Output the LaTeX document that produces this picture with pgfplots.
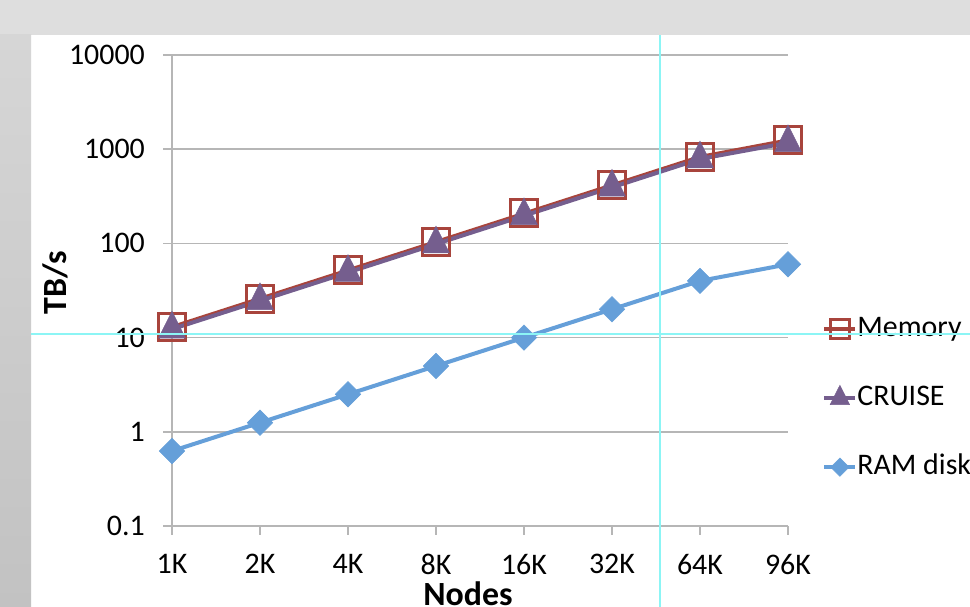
\documentclass[border=0pt]{standalone}
\usepackage{pgfplots}
\pgfplotsset{compat=1.18}
\usepackage{fontspec}
\setmainfont{Carlito}
\definecolor{memred}{RGB}{168,68,60}
\definecolor{cruisepurple}{RGB}{117,94,142}
\definecolor{ramblue}{RGB}{101,159,217}
\definecolor{gridgray}{RGB}{182,182,182}
\definecolor{bandgray}{RGB}{222,222,222}
\definecolor{guidecyan}{RGB}{140,245,245}
\begin{document}
\begin{tikzpicture}
\useasboundingbox (0,0) rectangle (970bp,607bp);
\fill[white] (0,0) rectangle (970bp,607bp);
\fill[bandgray] (0,572bp) rectangle (970bp,607bp);
\shade[top color={rgb,255:red,214;green,214;blue,214}, bottom color={rgb,255:red,194;green,194;blue,194}] (0,0) rectangle (31bp,572bp);
\begin{axis}[
  at={(172bp,81bp)}, anchor=south west,
  scale only axis, width=616bp, height=471bp,
  xmin=0, xmax=7, ymode=log, ymin=0.1, ymax=10000,
  axis x line*=bottom, axis y line*=left,
  axis line style={draw=gridgray, line width=1.5bp, -},
  xtick={0,...,7}, xticklabels={1K,2K,4K,8K,16K,32K,64K,96K},
  ytick={0.1,1,10,100,1000,10000}, yticklabels={0.1,1,10,100,1000,10000},
  yminorticks=false,
  tick align=outside, major tick length=9bp,
  tick style={draw=gridgray, line width=1.5bp},
  ymajorgrids, major grid style={draw=gridgray, line width=1.5bp},
  ticklabel style={font=\fontsize{30}{34}\selectfont, inner sep=0pt},
  yticklabel style={xshift=-18bp},
  xticklabel style={yshift=-19bp},
  xlabel={Nodes}, ylabel={TB/s},
  xlabel style={at={(axis description cs:0.4805,0)}, anchor=north, inner sep=0pt, yshift=-56bp, font=\fontsize{34}{38}\selectfont\bfseries},
  ylabel style={at={(axis description cs:0,0.516)}, anchor=south, inner sep=0pt, xshift=0bp, yshift=104bp, font=\fontsize{34}{38}\selectfont\bfseries},
  legend style={at={(axis description cs:1.0555,0.446)}, anchor=north west, draw=none, fill=none, inner sep=0pt,
    font=\fontsize{30}{34}\selectfont, row sep=43bp, nodes={inner sep=0pt, text height=20bp, text depth=6bp}},
  legend cell align=left,
  legend image code/.code={\draw[mark repeat=2,mark phase=2,#1, every mark/.append style={scale=0.72}] plot coordinates {(0bp,0bp) (15.5bp,0bp) (31bp,0bp)};},
]
\addplot[memred, line width=3.5bp, mark=square, mark size=13.5bp, mark options={line width=3bp, fill=none}]
  coordinates {(0,13) (1,26) (2,52) (3,104) (4,208) (5,416) (6,832) (7,1248)};
\addlegendentry{Memory}
\addplot[cruisepurple, line width=4bp, mark=triangle*, mark size=15.5bp, mark options={line width=0.5bp, yscale=1.15}]
  coordinates {(0,12.3) (1,24.6) (2,49.2) (3,98.5) (4,197) (5,394) (6,788) (7,1170)};
\addlegendentry{CRUISE}
\addplot[ramblue, line width=4bp, mark=square*, mark size=9bp, mark options={line width=0.5bp, rotate=45}]
  coordinates {(0,0.625) (1,1.25) (2,2.5) (3,5) (4,10) (5,20) (6,40) (7,60)};
\addlegendentry{RAM disk}
\end{axis}
\draw[guidecyan, line width=1.3bp] (660bp,0) -- (660bp,572bp);
\draw[guidecyan, line width=1.3bp] (31bp,273bp) -- (970bp,273bp);
\end{tikzpicture}
\end{document}
